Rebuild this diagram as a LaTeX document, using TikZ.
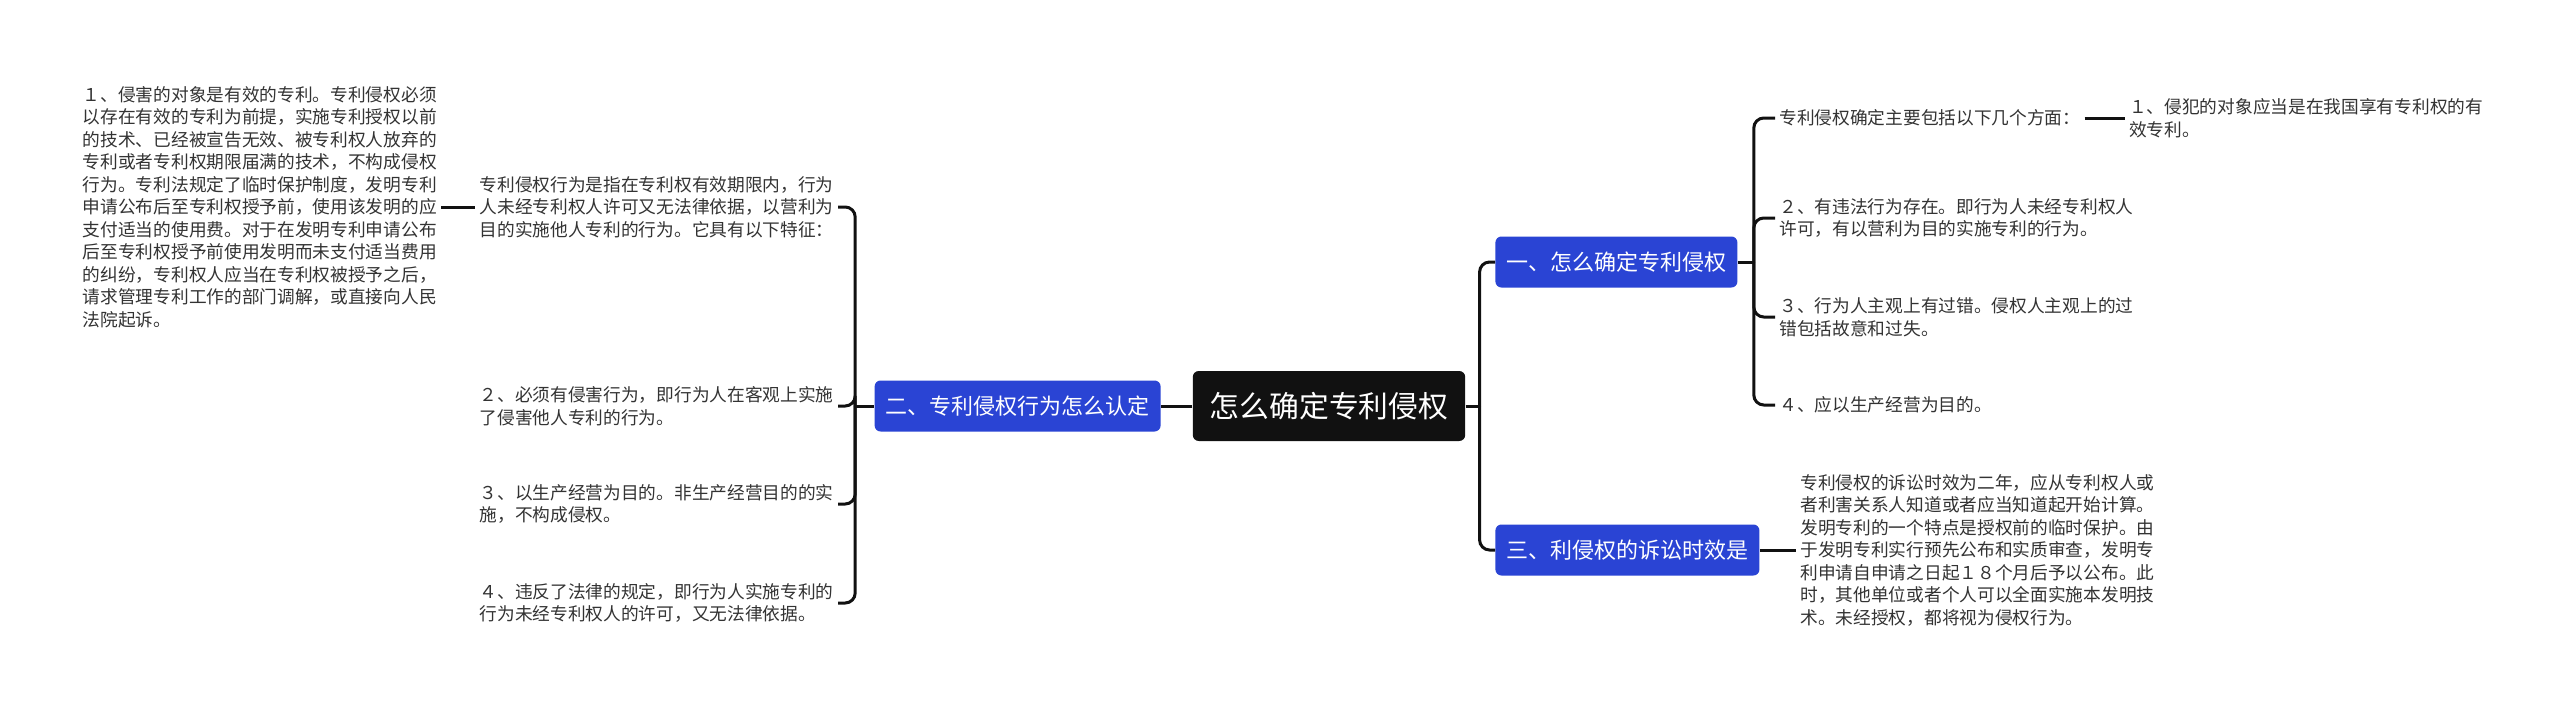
\documentclass[tikz,border=0pt]{standalone}
\usepackage{fontspec}
\setmainfont{Noto Sans CJK SC}
\usepackage{xcolor}
\usepackage{tikz}
\usetikzlibrary{positioning}
\definecolor{mapblue}{RGB}{42,68,212}
\definecolor{mapink}{RGB}{17,17,17}
\definecolor{leaftext}{RGB}{51,51,51}
\tikzset{
  rootbox/.style={rectangle, rounded corners=3pt, fill=mapink, text=white,
                  font=\fontsize{14.9pt}{18pt}\selectfont, inner xsep=8.5pt,
                  minimum height=35pt},
  topicbox/.style={rectangle, rounded corners=3pt, fill=mapblue, text=white,
                   font=\fontsize{11pt}{13pt}\selectfont, inner xsep=5.5pt,
                   minimum height=25.5pt},
  leafnote/.style={align=left, inner xsep=2pt, inner ysep=2pt, text=leaftext,
                   font=\fontsize{8.85pt}{11.25pt}\selectfont},
  linkline/.style={draw=mapink, line width=1.5pt},
  elbowline/.style={linkline, rounded corners=5pt}
}
\begin{document}
\begin{tikzpicture}[x=0.5pt, y=-0.5pt]
    \fill[white] (0,0) rectangle (2560,712);
    \useasboundingbox (0,0) rectangle (2560,712);
    % centre and main topics
    \node[rootbox] (root) at (1329,406) {怎么确定专利侵权};
    \node[topicbox, anchor=east] (ttwo) at (1161,406) {二、专利侵权行为怎么认定};
    \node[topicbox, anchor=west] (tone) at (1495,262) {一、怎么确定专利侵权};
    \node[topicbox, anchor=west] (tthree) at (1495,550) {三、利侵权的诉讼时效是};
    % left side
    \node[leafnote, anchor=east] (lzero) at (838,207)
         {专利侵权行为是指在专利权有效期限内，行为\\
          人未经专利权人许可又无法律依据，以营利为\\
          目的实施他人专利的行为。它具有以下特征：};
    \node[leafnote, left=17pt of lzero] (lone)
         {１、侵害的对象是有效的专利。专利侵权必须\\
          以存在有效的专利为前提，实施专利授权以前\\
          的技术、已经被宣告无效、被专利权人放弃的\\
          专利或者专利权期限届满的技术，不构成侵权\\
          行为。专利法规定了临时保护制度，发明专利\\
          申请公布后至专利权授予前，使用该发明的应\\
          支付适当的使用费。对于在发明专利申请公布\\
          后至专利权授予前使用发明而未支付适当费用\\
          的纠纷，专利权人应当在专利权被授予之后，\\
          请求管理专利工作的部门调解，或直接向人民\\
          法院起诉。};
    \node[leafnote, anchor=east] (ltwo) at (838,406)
         {２、必须有侵害行为，即行为人在客观上实施\\
          了侵害他人专利的行为。};
    \node[leafnote, anchor=east] (lthree) at (838,504)
         {３、以生产经营为目的。非生产经营目的的实\\
          施，不构成侵权。};
    \node[leafnote, anchor=east] (lfour) at (838,603)
         {４、违反了法律的规定，即行为人实施专利的\\
          行为未经专利权人的许可，又无法律依据。};
    % right side
    \node[leafnote, anchor=west] (rzero) at (1775,118)
         {专利侵权确定主要包括以下几个方面：};
    \node[leafnote, right=20pt of rzero] (rone)
         {１、侵犯的对象应当是在我国享有专利权的有\\
          效专利。};
    \node[leafnote, anchor=west] (rtwo) at (1775,218)
         {２、有违法行为存在。即行为人未经专利权人\\
          许可，有以营利为目的实施专利的行为。};
    \node[leafnote, anchor=west] (rthree) at (1775,317)
         {３、行为人主观上有过错。侵权人主观上的过\\
          错包括故意和过失。};
    \node[leafnote, anchor=west] (rfour) at (1775,405)
         {４、应以生产经营为目的。};
    \node[leafnote, anchor=west] (rfive) at (1796,550)
         {专利侵权的诉讼时效为二年，应从专利权人或\\
          者利害关系人知道或者应当知道起开始计算。\\
          发明专利的一个特点是授权前的临时保护。由\\
          于发明专利实行预先公布和实质审查，发明专\\
          利申请自申请之日起１８个月后予以公布。此\\
          时，其他单位或者个人可以全面实施本发明技\\
          术。未经授权，都将视为侵权行为。};
    % connectors
    \coordinate (jroot) at ([xshift=7pt]root.east);
    \coordinate (jtwo) at ([xshift=-9.5pt]ttwo.west);
    \coordinate (jone) at ([xshift=8pt]tone.east);
    \draw[linkline] (root.west) -- (ttwo.east);
    \draw[linkline] (root.east) -- (jroot);
    \foreach \c in {tone, tthree}
      \draw[elbowline] (jroot) |- (\c.west);
    \draw[linkline] (ttwo.west) -- (jtwo);
    \foreach \c in {lzero, ltwo, lthree, lfour}
      \draw[elbowline] (jtwo) |- (\c.east);
    \draw[linkline] (tone.east) -- (jone);
    \foreach \c in {rzero, rtwo, rthree, rfour}
      \draw[elbowline] (jone) |- (\c.west);
    \draw[linkline] (lone.east) -- (lzero.west);
    \draw[linkline] (rzero.east) -- (rone.west);
    \draw[linkline] (tthree.east) -- (rfive.west);
  \end{tikzpicture}
\end{document}
